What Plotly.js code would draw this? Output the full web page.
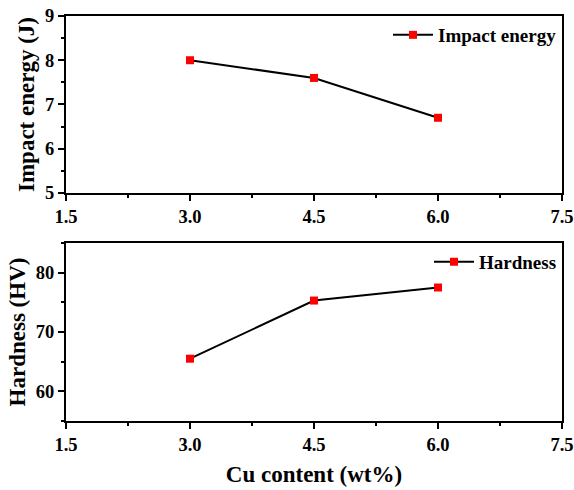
<!DOCTYPE html>
<html><head><meta charset="utf-8">
<script src="https://cdn.plot.ly/plotly-3.0.1.min.js"></script>
<style>html,body{margin:0;padding:0;background:#fff}</style>
</head><body><div id="chart" style="width:574px;height:490px"></div>
<script>
const cuContent = [3.0, 4.5, 6.0];
const impactEnergy = [8.0, 7.6, 6.7];
const hardness = [65.5, 75.3, 77.5];
const xTicks = [1.5, 3.0, 4.5, 6.0, 7.5];
const xTickText = ['1.5', '3.0', '4.5', '6.0', '7.5'];

const fontFam = '"Liberation Serif", "Times New Roman", serif';
const tickFont = {family: fontFam, size: 18.5, color: '#000', weight: 700};
const titleFont = {family: fontFam, size: 23, color: '#000', weight: 700};
const legFont = {family: fontFam, size: 19, color: '#000', weight: 700};

const traces = [
  {x: cuContent, y: impactEnergy, name: 'Impact energy', type: 'scatter', mode: 'lines+markers',
   line: {color: '#000', width: 2}, marker: {symbol: 'square', size: 8, color: '#ff0000'},
   xaxis: 'x', yaxis: 'y', legend: 'legend'},
  {x: cuContent, y: hardness, name: 'Hardness', type: 'scatter', mode: 'lines+markers',
   line: {color: '#000', width: 2}, marker: {symbol: 'square', size: 8, color: '#ff0000'},
   xaxis: 'x2', yaxis: 'y2', legend: 'legend2'}
];

function xax(anchor, withTitle) {
  const a = {
    anchor: anchor, range: [1.5, 7.5], tickvals: xTicks, ticktext: xTickText,
    ticks: 'outside', ticklen: 6, tickwidth: 2, tickcolor: '#000',
    showline: true, linewidth: 2, linecolor: '#000', mirror: true,
    showgrid: false, zeroline: false, tickfont: tickFont,
    minor: {tickvals: [2.25, 3.75, 5.25, 6.75], ticks: 'outside', ticklen: 3, tickwidth: 2, tickcolor: '#000'}
  };
  if (withTitle) a.title = {text: 'Cu content (wt%)', font: titleFont, standoff: 12};
  return a;
}
function yax(anchor, domain, range, tv, minor, title) {
  return {
    anchor: anchor, domain: domain, range: range, tickvals: tv,
    ticks: 'outside', ticklen: 6, tickwidth: 2, tickcolor: '#000',
    showline: true, linewidth: 2, linecolor: '#000', mirror: true,
    showgrid: false, zeroline: false, tickfont: tickFont,
    minor: {tickvals: minor, ticks: 'outside', ticklen: 3, tickwidth: 2, tickcolor: '#000'},
    title: {text: title, font: titleFont, standoff: 4}
  };
}

const layout = {
  width: 574, height: 490,
  margin: {l: 66, r: 12, t: 16, b: 69},
  paper_bgcolor: '#fff', plot_bgcolor: '#fff',
  xaxis: xax('y', false),
  yaxis: yax('x', [0.563, 1], [5, 9], [5, 6, 7, 8, 9], [5.5, 6.5, 7.5, 8.5], 'Impact energy (J)'),
  xaxis2: xax('y2', true),
  yaxis2: yax('x2', [0, 0.4395], [55, 85], [60, 70, 80], [55, 65, 75, 85], 'Hardness (HV)'),
  legend: {x: 1.0, y: 1.0, xanchor: 'right', yanchor: 'top', bgcolor: 'rgba(0,0,0,0)',
           font: legFont, itemwidth: 40},
  legend2: {x: 1.0, y: 0.44, xanchor: 'right', yanchor: 'top', bgcolor: 'rgba(0,0,0,0)',
           font: legFont, itemwidth: 40},
  showlegend: true
};
Plotly.newPlot('chart', traces, layout, {displayModeBar: false, staticPlot: true});
</script></body></html>
